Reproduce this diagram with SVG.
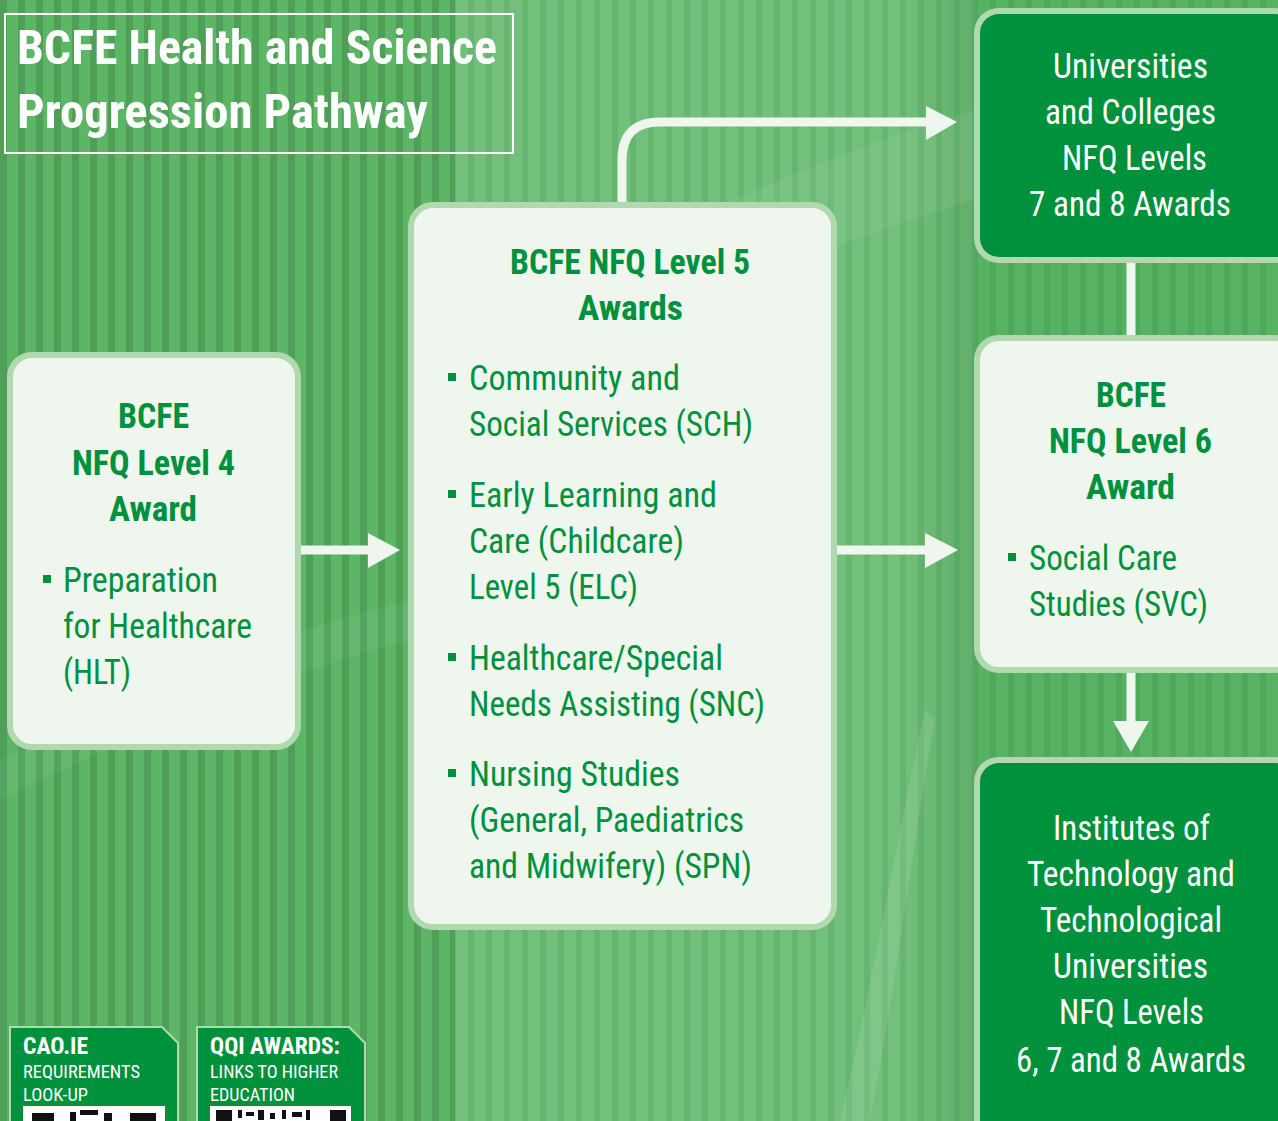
<svg xmlns="http://www.w3.org/2000/svg" width="1278" height="1121" viewBox="0 0 1278 1121">
<defs>
<style>
.t{font-family:"Liberation Sans Narrow","Roboto Condensed","DejaVu Sans Condensed","Liberation Sans",sans-serif;}
.b{font-weight:bold;}
.g{fill:#00913e;}
.w{fill:#ffffff;}
.light{fill:#eff6ee;stroke:#b1d8ae;stroke-width:6;}
.dark{fill:#00913c;stroke:#b1d8ae;stroke-width:6;}
.conn{fill:none;stroke:#eff6ee;stroke-width:9;}
.head{fill:#eff6ee;}
.bul{fill:#00913e;}
.tag{fill:#00913c;stroke:#b1d8ae;stroke-width:2;}
</style>
<pattern id="sL" width="18" height="20" patternUnits="userSpaceOnUse">
<rect width="18" height="20" fill="#5db566"/>
<rect x="0" width="7" height="20" fill="#4f9f59"/>
</pattern>
<pattern id="sM" width="18" height="20" patternUnits="userSpaceOnUse">
<rect width="18" height="20" fill="#72c07b"/>
<rect x="0" width="6" height="20" fill="#66b66f"/>
</pattern>
<pattern id="sR" width="18" height="20" patternUnits="userSpaceOnUse">
<rect width="18" height="20" fill="#58b263"/>
<rect x="0" width="6" height="20" fill="#4fa85b"/>
</pattern>
<linearGradient id="shade" x1="0" y1="0" x2="1" y2="0">
<stop offset="0" stop-color="#2f7a3a" stop-opacity="0"/>
<stop offset="1" stop-color="#2f7a3a" stop-opacity="0.25"/>
</linearGradient>
</defs>
<g id="background">
<rect x="0" y="0" width="1278" height="1121" fill="#56ae62"/>
<rect x="0" y="0" width="455" height="1121" fill="url(#sL)"/>
<rect x="455" y="0" width="520" height="1121" fill="url(#sM)"/>
<rect x="975" y="0" width="303" height="1121" fill="url(#sR)"/>
<rect x="900" y="0" width="75" height="1121" fill="url(#shade)"/>
<path d="M455,330 C600,260 800,160 975,110 L975,200 C800,250 620,340 455,420 Z" fill="#ffffff" opacity="0.06"/>
<path d="M840,1121 C880,950 900,820 925,710 L935,720 C915,830 900,960 870,1121 Z" fill="#ffffff" opacity="0.1"/>
<path d="M0,760 C120,700 250,640 410,600 L410,640 C260,680 120,740 0,800 Z" fill="#ffffff" opacity="0.05"/>
</g>
<g id="title">
<rect x="5" y="14" width="508" height="139" fill="none" stroke="#ffffff" stroke-width="2"/>
<text class="t b w" x="17" y="64" font-size="49" textLength="480" lengthAdjust="spacingAndGlyphs">BCFE Health and Science</text>
<text class="t b w" x="17" y="128" font-size="49" textLength="411" lengthAdjust="spacingAndGlyphs">Progression Pathway</text>
</g>
<g id="connectors">
<line class="conn" x1="301" y1="550" x2="372" y2="550"/>
<polygon class="head" points="368,533 400,550 368,568"/>
<line class="conn" x1="837" y1="550" x2="928" y2="550"/>
<polygon class="head" points="925,533 958,550 925,568"/>
<path class="conn" d="M622,205 L622,160 Q622,122 660,122 L930,122"/>
<polygon class="head" points="926,106 957,122 926,140"/>
<line class="conn" x1="1131" y1="262" x2="1131" y2="338"/>
<line class="conn" x1="1131" y1="672" x2="1131" y2="725"/>
<polygon class="head" points="1113,721 1149,721 1131,752"/>
</g>
<g id="node-level4">
<rect class="light" x="10" y="355" width="288" height="392" rx="22"/>
<text class="t b g" x="118" y="428" font-size="35" textLength="71" lengthAdjust="spacingAndGlyphs">BCFE</text>
<text class="t b g" x="72" y="475" font-size="35" textLength="163" lengthAdjust="spacingAndGlyphs">NFQ Level 4</text>
<text class="t b g" x="109" y="521" font-size="35" textLength="88" lengthAdjust="spacingAndGlyphs">Award</text>
<rect class="bul" x="43" y="575" width="8" height="8"/>
<text class="t g" x="63" y="592" font-size="35" textLength="155" lengthAdjust="spacingAndGlyphs">Preparation</text>
<text class="t g" x="63" y="638" font-size="35" textLength="189" lengthAdjust="spacingAndGlyphs">for Healthcare</text>
<text class="t g" x="63" y="684" font-size="35" textLength="68" lengthAdjust="spacingAndGlyphs">(HLT)</text>
</g>
<g id="node-level5">
<rect class="light" x="411" y="205" width="423" height="722" rx="22"/>
<text class="t b g" x="510" y="274" font-size="35" textLength="240" lengthAdjust="spacingAndGlyphs">BCFE NFQ Level 5</text>
<text class="t b g" x="578" y="320" font-size="35" textLength="105" lengthAdjust="spacingAndGlyphs">Awards</text>
<rect class="bul" x="448" y="373" width="8" height="8"/>
<text class="t g" x="469" y="390" font-size="35" textLength="211" lengthAdjust="spacingAndGlyphs">Community and</text>
<text class="t g" x="469" y="436" font-size="35" textLength="284" lengthAdjust="spacingAndGlyphs">Social Services (SCH)</text>
<rect class="bul" x="448" y="490" width="8" height="8"/>
<text class="t g" x="469" y="507" font-size="35" textLength="248" lengthAdjust="spacingAndGlyphs">Early Learning and</text>
<text class="t g" x="469" y="553" font-size="35" textLength="215" lengthAdjust="spacingAndGlyphs">Care (Childcare)</text>
<text class="t g" x="469" y="599" font-size="35" textLength="169" lengthAdjust="spacingAndGlyphs">Level 5 (ELC)</text>
<rect class="bul" x="448" y="653" width="8" height="8"/>
<text class="t g" x="469" y="670" font-size="35" textLength="254" lengthAdjust="spacingAndGlyphs">Healthcare/Special</text>
<text class="t g" x="469" y="716" font-size="35" textLength="296" lengthAdjust="spacingAndGlyphs">Needs Assisting (SNC)</text>
<rect class="bul" x="448" y="769" width="8" height="8"/>
<text class="t g" x="469" y="786" font-size="35" textLength="211" lengthAdjust="spacingAndGlyphs">Nursing Studies</text>
<text class="t g" x="469" y="832" font-size="35" textLength="275" lengthAdjust="spacingAndGlyphs">(General, Paediatrics</text>
<text class="t g" x="469" y="878" font-size="35" textLength="283" lengthAdjust="spacingAndGlyphs">and Midwifery) (SPN)</text>
</g>
<g id="node-universities">
<rect class="dark" x="977" y="11" width="320" height="249" rx="22"/>
<text class="t w" x="1053" y="78" font-size="35" textLength="155" lengthAdjust="spacingAndGlyphs">Universities</text>
<text class="t w" x="1045" y="124" font-size="35" textLength="171" lengthAdjust="spacingAndGlyphs">and Colleges</text>
<text class="t w" x="1062" y="170" font-size="35" textLength="145" lengthAdjust="spacingAndGlyphs">NFQ Levels</text>
<text class="t w" x="1029" y="216" font-size="35" textLength="202" lengthAdjust="spacingAndGlyphs">7 and 8 Awards</text>
</g>
<g id="node-level6">
<rect class="light" x="977" y="338" width="320" height="332" rx="22"/>
<text class="t b g" x="1096" y="407" font-size="35" textLength="70" lengthAdjust="spacingAndGlyphs">BCFE</text>
<text class="t b g" x="1049" y="453" font-size="35" textLength="163" lengthAdjust="spacingAndGlyphs">NFQ Level 6</text>
<text class="t b g" x="1086" y="499" font-size="35" textLength="89" lengthAdjust="spacingAndGlyphs">Award</text>
<rect class="bul" x="1008" y="553" width="8" height="8"/>
<text class="t g" x="1029" y="570" font-size="35" textLength="148" lengthAdjust="spacingAndGlyphs">Social Care</text>
<text class="t g" x="1029" y="616" font-size="35" textLength="179" lengthAdjust="spacingAndGlyphs">Studies (SVC)</text>
</g>
<g id="node-institutes">
<rect class="dark" x="977" y="760" width="320" height="420" rx="22"/>
<text class="t w" x="1053" y="840" font-size="35" textLength="157" lengthAdjust="spacingAndGlyphs">Institutes of</text>
<text class="t w" x="1027" y="886" font-size="35" textLength="208" lengthAdjust="spacingAndGlyphs">Technology and</text>
<text class="t w" x="1040" y="932" font-size="35" textLength="182" lengthAdjust="spacingAndGlyphs">Technological</text>
<text class="t w" x="1053" y="978" font-size="35" textLength="155" lengthAdjust="spacingAndGlyphs">Universities</text>
<text class="t w" x="1059" y="1024" font-size="35" textLength="145" lengthAdjust="spacingAndGlyphs">NFQ Levels</text>
<text class="t w" x="1016" y="1072" font-size="35" textLength="230" lengthAdjust="spacingAndGlyphs">6, 7 and 8 Awards</text>
</g>
<g id="tag-cao">
<path class="tag" d="M10,1127 L10,1027 L162,1027 L178,1043 L178,1127 Z"/>
<text class="t b w" x="23" y="1054" font-size="24" textLength="65" lengthAdjust="spacingAndGlyphs">CAO.IE</text>
<text class="t w" x="23" y="1078" font-size="19" textLength="117" lengthAdjust="spacingAndGlyphs">REQUIREMENTS</text>
<text class="t w" x="23" y="1101" font-size="19" textLength="65" lengthAdjust="spacingAndGlyphs">LOOK-UP</text>
<rect x="23" y="1106" width="142" height="20" fill="#ffffff"/>
<rect x="32" y="1113" width="22" height="10" fill="#111"/>
<rect x="70" y="1112" width="6" height="10" fill="#111"/>
<rect x="80" y="1110" width="18" height="5" fill="#111"/>
<rect x="104" y="1113" width="8" height="10" fill="#111"/>
<rect x="130" y="1113" width="26" height="10" fill="#111"/>
</g>
<g id="tag-qqi">
<path class="tag" d="M197,1127 L197,1027 L349,1027 L365,1043 L365,1127 Z"/>
<text class="t b w" x="210" y="1054" font-size="24" textLength="130" lengthAdjust="spacingAndGlyphs">QQI AWARDS:</text>
<text class="t w" x="210" y="1078" font-size="19" textLength="128" lengthAdjust="spacingAndGlyphs">LINKS TO HIGHER</text>
<text class="t w" x="210" y="1101" font-size="19" textLength="85" lengthAdjust="spacingAndGlyphs">EDUCATION</text>
<rect x="210" y="1106" width="141" height="20" fill="#ffffff"/>
<rect x="216" y="1110" width="16" height="12" fill="#111"/>
<rect x="238" y="1110" width="4" height="8" fill="#111"/>
<rect x="246" y="1112" width="8" height="4" fill="#111"/>
<rect x="258" y="1110" width="6" height="10" fill="#111"/>
<rect x="270" y="1113" width="5" height="6" fill="#111"/>
<rect x="282" y="1110" width="4" height="9" fill="#111"/>
<rect x="292" y="1112" width="10" height="5" fill="#111"/>
<rect x="306" y="1110" width="4" height="10" fill="#111"/>
<rect x="330" y="1110" width="16" height="12" fill="#111"/>
</g>
</svg>
